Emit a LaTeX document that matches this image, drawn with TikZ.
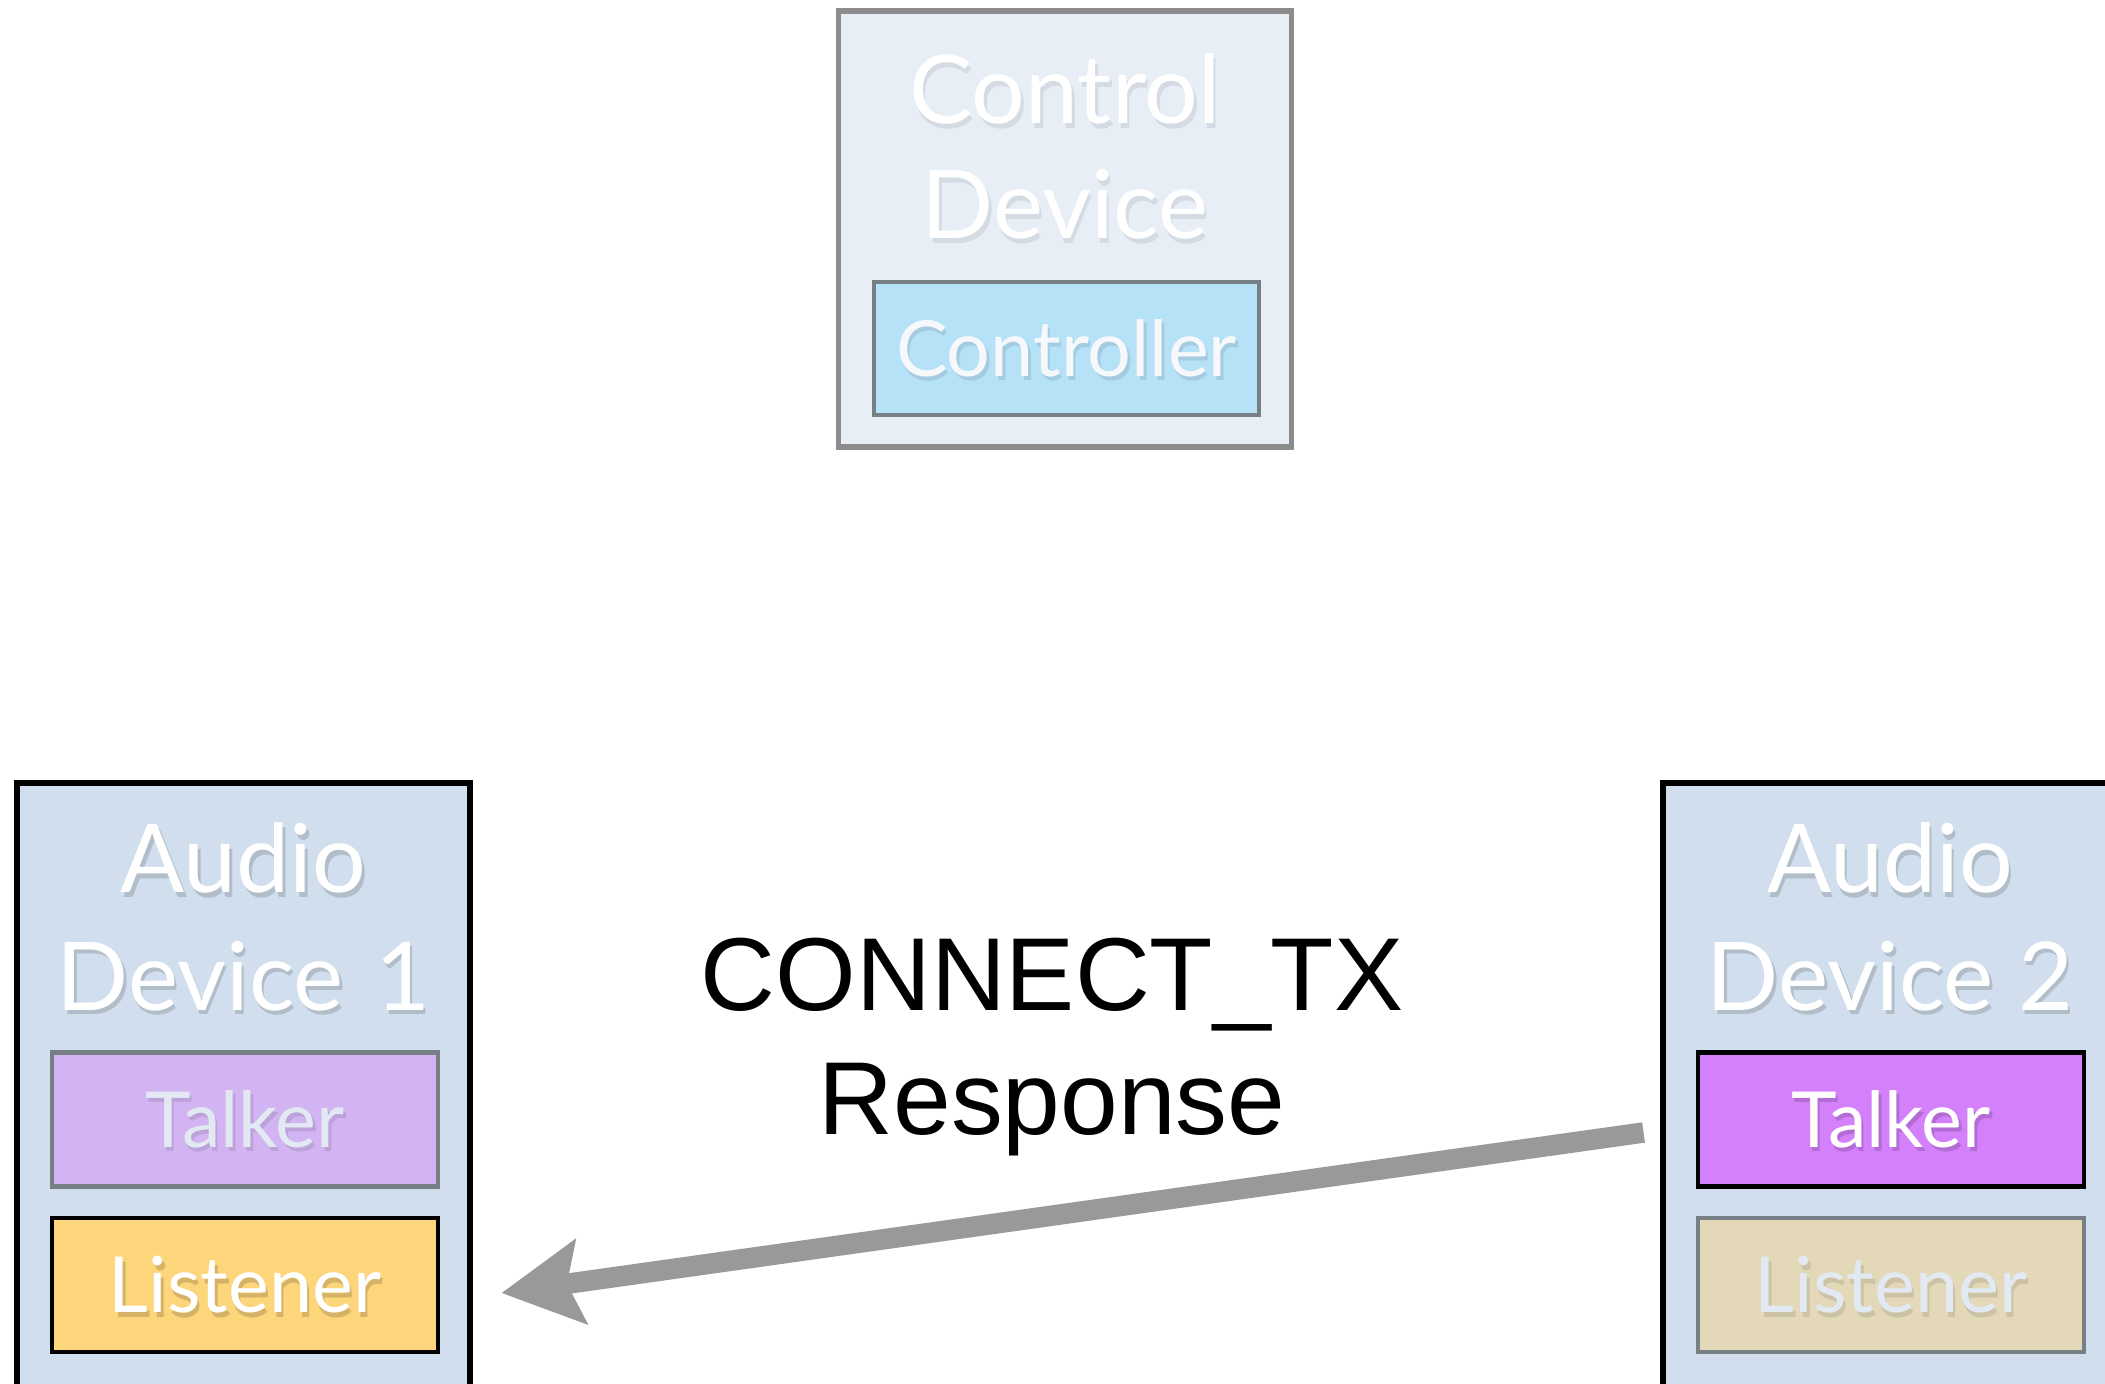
\documentclass[tikz,border=0pt]{standalone}
\usepackage{fontspec}
\newfontfamily\boxfont{Lato}
\newfontfamily\labelfont{Liberation Sans}
\usetikzlibrary{arrows.meta,calc}

\definecolor{ctrlbg}{HTML}{E8EEF6}
\definecolor{ctrlborder}{HTML}{8C8C8C}
\definecolor{controllerfill}{HTML}{B6E2F8}
\definecolor{dimborder}{HTML}{767E86}
\definecolor{audiobg}{HTML}{D0DEED}
\definecolor{talkerdim}{HTML}{D2B4F2}
\definecolor{talkeron}{HTML}{D580FB}
\definecolor{listeneron}{HTML}{FDD57A}
\definecolor{listenerdim}{HTML}{E3D9B9}
\definecolor{dimtext}{HTML}{E2E9F3}
\definecolor{arrowgray}{HTML}{999999}

% text with a soft drop shadow underneath (shadow colour, text)
\newcommand\shadowed[2]{\makebox[0pt][l]{\hspace{0.7pt}\raisebox{-1.3pt}{\textcolor{#1}{#2}}}#2}

\tikzset{
  devbox/.style={rectangle, line width=1.5pt, inner sep=0pt,
    minimum width=4.53cm},
  role/.style={rectangle, line width=1.4pt, inner sep=0pt,
    minimum width=3.86cm, minimum height=1.34cm,
    font=\boxfont\fontsize{22pt}{26pt}\selectfont,
    text height=0.556cm, text depth=0pt},
  activerole/.style={role, draw=black, text=white},
  idlerole/.style={role, draw=dimborder, text=dimtext},
  devtitle/.style={anchor=base, text=white,
    font=\boxfont\fontsize{27pt}{32pt}\selectfont},
  msg/.style={anchor=base, text=black,
    font=\labelfont\fontsize{29.5pt}{34pt}\selectfont},
  msgarrow/.style={draw=arrowgray, line width=0.205cm,
    -{Stealth[length=0.8cm, width=0.84cm, inset=0.14cm, fill=arrowgray]}}
}

\begin{document}
\begin{tikzpicture}
\useasboundingbox (0,0) rectangle (21.05,-13.84);
\clip (0,0) rectangle (21.05,-13.84);

% Control device (inactive)
\node[devbox, draw=ctrlborder, fill=ctrlbg, minimum height=4.36cm]
  (ctrldev) at (10.65,-2.29) {};
\node[devtitle] (ctrlt1) at (10.65,-1.24) {\shadowed{ctrlbg!92!black}{Control}};
\node[devtitle] (ctrlt2) at (10.65,-2.39) {\shadowed{ctrlbg!92!black}{Device}};
\node[idlerole, fill=controllerfill, minimum width=3.85cm, minimum height=1.33cm,
      text=white!60!ctrlbg] (controller) at (10.665,-3.485)
  {\shadowed{controllerfill!90!black}{Controller}};

% Audio device 1
\node[devbox, draw=black, fill=audiobg, minimum height=6.4cm]
  (dev1) at (2.435,-11.03) {};
\node[devtitle] (dev1t1) at (2.435,-8.93) {\shadowed{audiobg!85!black}{Audio}};
\node[devtitle] (dev1t2) at (2.435,-10.10) {\shadowed{audiobg!85!black}{Device\,\,1}};
\node[idlerole, fill=talkerdim] (talker1) at (2.45,-11.195)
  {\shadowed{talkerdim!90!black}{Talker}};
\node[activerole, fill=listeneron] (listener1) at (2.45,-12.85)
  {\shadowed{listeneron!84!black}{Listener}};

% Audio device 2
\node[devbox, draw=black, fill=audiobg, minimum height=6.4cm]
  (dev2) at (18.895,-11.03) {};
\node[devtitle] (dev2t1) at (18.90,-8.93) {\shadowed{audiobg!85!black}{Audio}};
\node[devtitle] (dev2t2) at (18.90,-10.10) {\shadowed{audiobg!85!black}{Device 2}};
\node[activerole, fill=talkeron] (talker2) at (18.91,-11.195)
  {\shadowed{talkeron!84!black}{Talker}};
\node[idlerole, fill=listenerdim] (listener2) at (18.91,-12.85)
  {\shadowed{listenerdim!90!black}{Listener}};

% Message label
\node[msg] (msg1) at (10.52,-10.10) {CONNECT\_TX};
\node[msg] (msg2) at (10.52,-11.34) {Response};

% Response arrow from talker 2 back to listener 1
\draw[msgarrow] ($(talker2.west)+(-0.52,-0.13)$) -- ($(listener1.east)+(0.61,-0.08)$);
\end{tikzpicture}
\end{document}
